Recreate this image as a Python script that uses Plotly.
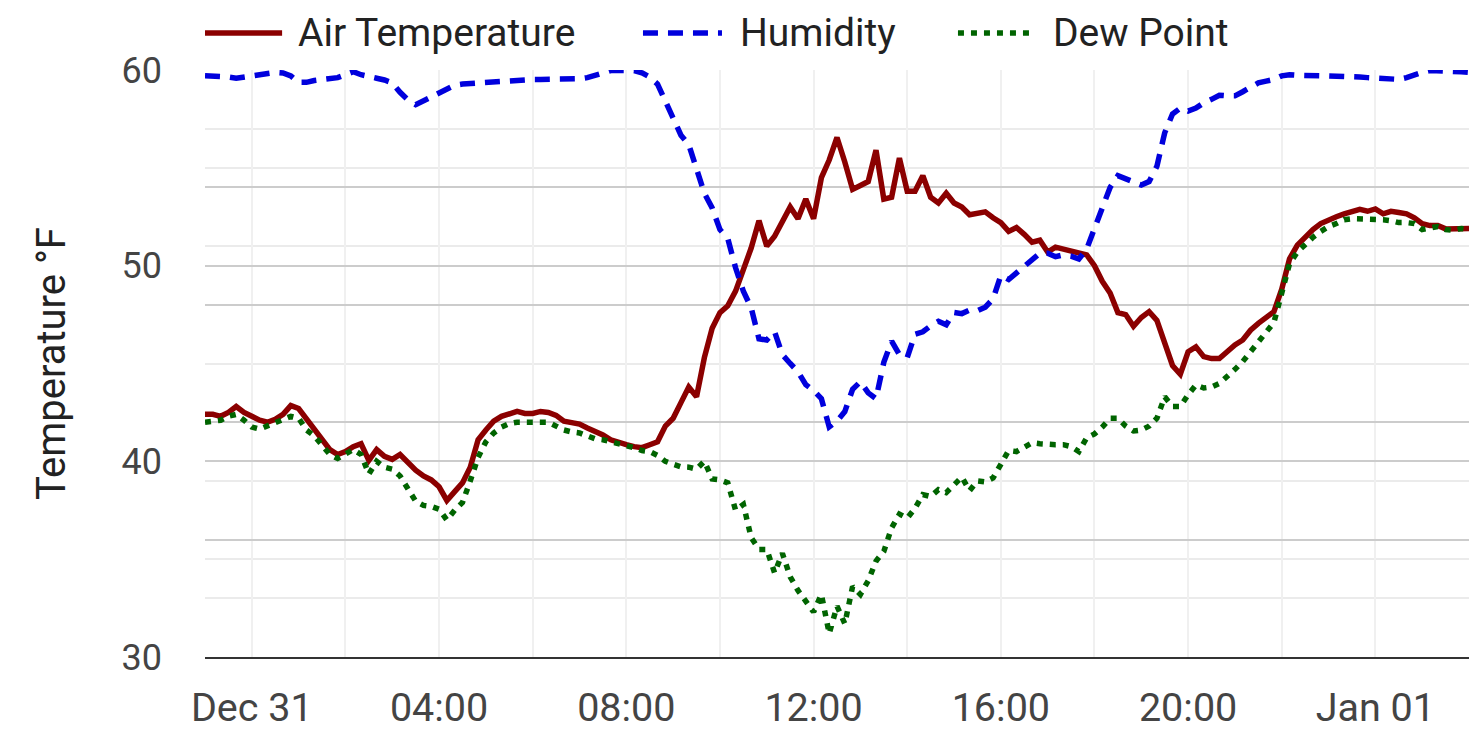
import pandas as pd
import plotly.graph_objects as go

# ---- data (10-minute readings, Dec 30 23:00 -> Jan 01 02:00) ----
start_time = "2024-12-30 23:00"
n_points = 163

air_temp = [
    42.4, 42.4, 42.3, 42.5, 42.8, 42.5,
    42.3, 42.1, 42.0, 42.15, 42.4, 42.85,
    42.7, 42.2, 41.7, 41.2, 40.6, 40.35,
    40.5, 40.75, 40.9, 40.05, 40.6, 40.25,
    40.1, 40.35, 39.95, 39.55, 39.25, 39.05,
    38.7, 38.0, 38.45, 38.9, 39.7, 41.1,
    41.6, 42.05, 42.3, 42.43, 42.55, 42.45,
    42.45, 42.55, 42.5, 42.35, 42.05, 41.98,
    41.9, 41.7, 41.55, 41.35, 41.1, 40.95,
    40.85, 40.75, 40.7, 40.85, 41.0, 41.8,
    42.2, 43.0, 43.8, 43.3, 45.3, 46.8,
    47.6, 47.95, 48.7, 49.8, 50.9, 52.3,
    51.0, 51.5, 52.3, 53.0, 52.4, 53.4,
    52.4, 54.5, 55.4, 56.55, 55.3, 53.9,
    54.1, 54.3, 55.9, 53.4, 53.5, 55.5,
    53.8, 53.8, 54.6, 53.5, 53.2, 53.7,
    53.2, 53.0, 52.6, 52.7, 52.75, 52.45,
    52.2, 51.75, 51.95, 51.6, 51.2, 51.3,
    50.7, 50.95, 50.85, 50.8, 50.65, 50.55,
    50.0, 49.2, 48.6, 47.6, 47.5, 46.9,
    47.35, 47.65, 47.2, 46.0, 44.9, 44.45,
    45.6, 45.85, 45.35, 45.25, 45.25, 45.6,
    45.95, 46.2, 46.7, 47.05, 47.35, 47.65,
    48.8, 50.35, 51.05, 51.5, 51.85, 52.15,
    52.35, 52.5, 52.65, 52.75, 52.88, 52.78,
    52.9, 52.65, 52.78, 52.72, 52.65, 52.45,
    52.15, 52.05, 52.05, 51.88, 51.9, 51.95,
    51.9,
]

dew_point = [
    42.0, 42.05, 42.1, 42.3, 42.4, 42.1,
    41.75, 41.65, 41.8, 41.95, 42.15, 42.3,
    42.2, 41.6, 41.3, 40.85, 40.35, 40.15,
    40.4, 40.6, 40.35, 39.35, 40.0, 39.7,
    39.6, 39.25, 38.6, 37.96, 37.75, 37.7,
    37.55, 37.0, 37.5, 37.9, 39.0, 40.2,
    41.0, 41.45, 41.75, 41.93, 42.0, 42.0,
    42.0, 42.05, 42.0, 41.8, 41.6, 41.5,
    41.45, 41.3, 41.15, 41.1, 41.0, 40.9,
    40.85, 40.7, 40.55, 40.5, 40.3, 40.0,
    39.85, 39.72, 39.7, 39.6, 40.0, 39.1,
    39.05, 38.9, 37.5, 37.8, 36.1, 35.5,
    35.5, 34.3, 35.3, 34.1, 33.4, 32.8,
    32.3, 33.2, 31.2, 32.6, 31.7, 33.6,
    33.2, 33.9, 34.9, 35.4, 36.6, 37.3,
    37.1, 37.6, 38.3, 38.2, 38.55, 38.4,
    38.8, 39.2, 38.5, 39.0, 38.95, 39.15,
    39.85, 40.55, 40.5, 40.75, 40.95, 40.9,
    40.85, 40.85, 40.85, 40.75, 40.5, 41.2,
    41.4, 41.75, 42.2, 42.2, 41.8, 41.55,
    41.6, 41.8, 42.2, 43.3, 42.8, 42.8,
    43.4, 43.9, 43.75, 43.8, 43.98, 44.3,
    44.7, 45.1, 45.6, 46.1, 46.65, 47.1,
    48.6, 50.1, 50.7, 51.1, 51.45, 51.75,
    52.0, 52.15, 52.35, 52.4, 52.4, 52.4,
    52.4, 52.35, 52.3, 52.2, 52.2, 52.15,
    51.85, 51.9, 52.0, 51.85, 51.8, 51.9,
    51.85,
]

humidity = [
    99.0, 99.0, 98.9, 98.8, 98.6, 98.8,
    98.9, 99.1, 99.3, 99.6, 99.5, 99.0,
    97.9, 97.9, 98.2, 98.4, 98.6, 98.7,
    99.2, 99.7, 99.2, 98.8, 98.6, 98.3,
    97.8, 96.2, 94.9, 94.1, 94.8, 95.3,
    96.0, 96.7, 97.4, 97.6, 97.7, 97.8,
    98.0, 98.1, 98.2, 98.3, 98.4, 98.4,
    98.4, 98.4, 98.4, 98.35, 98.3, 98.4,
    98.5, 98.7, 99.0, 99.5, 99.9, 99.9,
    99.9, 99.9, 99.5, 98.8, 97.6, 94.5,
    91.5, 88.9, 87.3, 83.5, 79.0, 76.5,
    72.8, 71.3, 66.3, 62.3, 59.5, 54.2,
    54.0, 55.4, 51.5, 50.0, 48.6, 46.4,
    45.4, 44.0, 39.2, 40.2, 41.8, 45.6,
    46.9, 45.0, 44.0, 50.2, 53.8, 51.5,
    51.0, 55.0, 55.4, 56.4, 57.2, 56.6,
    58.7, 58.5, 59.1, 59.0, 59.6, 61.0,
    65.0, 64.3, 65.5, 66.5, 67.8, 68.8,
    68.8, 68.2, 68.5, 68.3, 67.8, 69.5,
    73.0, 76.5, 80.0, 82.0, 81.4, 80.8,
    80.4, 81.0, 83.6, 89.3, 92.5, 93.5,
    93.0, 93.5, 94.4, 95.0, 95.7, 95.6,
    95.6, 96.3, 97.0, 97.8, 98.1, 98.4,
    99.0, 99.2, 99.1, 99.0, 99.0, 99.0,
    99.0, 99.0, 98.9, 98.8, 98.8, 98.7,
    98.6, 98.5, 98.4, 98.4, 98.7, 99.2,
    99.6, 99.9, 99.9, 99.9, 99.9, 99.7,
    99.6,
]

series_names = ["Air Temperature", "Humidity", "Dew Point"]
tick_times = pd.date_range("2024-12-31 00:00", "2025-01-01 00:00", freq="2h")
tick_labels = ["Dec 31", "", "04:00", "", "08:00", "", "12:00", "", "16:00", "", "20:00", "", "Jan 01"]

times = pd.date_range(start_time, periods=n_points, freq="10min")

RED = "#8B0000"
BLUE = "#0000DD"
GREEN = "#006400"
styles = {
    "Air Temperature": dict(color=RED, width=5.5, dash="solid"),
    "Humidity": dict(color=BLUE, width=5.5, dash="15px,10px"),
    "Dew Point": dict(color=GREEN, width=5.5, dash="6px,7px"),
}

fig = go.Figure()
fig.add_trace(go.Scatter(x=times, y=air_temp, mode="lines", name=series_names[0],
                         line=styles["Air Temperature"], yaxis="y"))
fig.add_trace(go.Scatter(x=times, y=dew_point, mode="lines", name=series_names[2],
                         line=styles["Dew Point"], yaxis="y"))
fig.add_trace(go.Scatter(x=times, y=humidity, mode="lines", name=series_names[1],
                         line=styles["Humidity"], yaxis="y2"))

MAJOR = "#CCCCCC"
MINOR = "#EBEBEB"
VGRID = "#F0F0F0"

fig.update_layout(
    width=1469, height=749,
    margin=dict(l=205, r=0, t=70, b=92),
    plot_bgcolor="white", paper_bgcolor="white",
    font=dict(family="Roboto", color="#444444", size=36),
    showlegend=False,
    xaxis=dict(
        type="date",
        range=[times[0], times[-1]],
        tickmode="array", tickvals=tick_times, ticktext=tick_labels,
        showgrid=True, gridcolor=VGRID, gridwidth=2,
        showline=True, linecolor="#333333", linewidth=2,
        zeroline=False, ticks="", ticklabelstandoff=15,
        tickfont=dict(size=39.5, color="#444444"),
    ),
    yaxis=dict(
        range=[30, 60], tickmode="linear", tick0=30, dtick=10,
        showgrid=True, gridcolor=MAJOR, gridwidth=2,
        minor=dict(tickmode="linear", tick0=30, dtick=5, showgrid=True, gridcolor=MINOR, gridwidth=2),
        zeroline=False, showline=False, ticks="", ticklabelstandoff=42,
        tickfont=dict(size=36, color="#444444"),
        title=dict(text="Temperature °F", font=dict(size=40, color="#222222"), standoff=43),
    ),
    yaxis2=dict(
        range=[0, 100], overlaying="y", side="right", tickmode="linear", tick0=0, dtick=20,
        showgrid=True, gridcolor=MAJOR, gridwidth=2,
        minor=dict(tickmode="linear", tick0=0, dtick=10, showgrid=True, gridcolor=MINOR, gridwidth=2),
        showticklabels=False, zeroline=False, showline=False, ticks="",
    ),
)

# legend drawn as layout decoration (long line samples like the reference)
legend_y = 1.063
legend_items = [
    ("Air Temperature", 0.0, 0.061, 0.0720),
    ("Humidity", 0.3465, 0.409, 0.4220),
    ("Dew Point", 0.5957, 0.6574, 0.6695),
]
for name, x0, x1, xt in legend_items:
    st = styles[name]
    fig.add_shape(type="line", xref="paper", yref="paper", x0=x0, x1=x1, y0=legend_y, y1=legend_y,
                  line=dict(color=st["color"], width=st["width"], dash=st["dash"]))
    fig.add_annotation(text=name, xref="paper", yref="paper", x=xt, y=legend_y,
                       xanchor="left", yanchor="middle", showarrow=False,
                       font=dict(size=39, color="#222222", family="Roboto"))

fig.write_html("out.html", config={"displayModeBar": False},
               post_script="document.body.style.margin='0';document.body.style.overflow='hidden';")
